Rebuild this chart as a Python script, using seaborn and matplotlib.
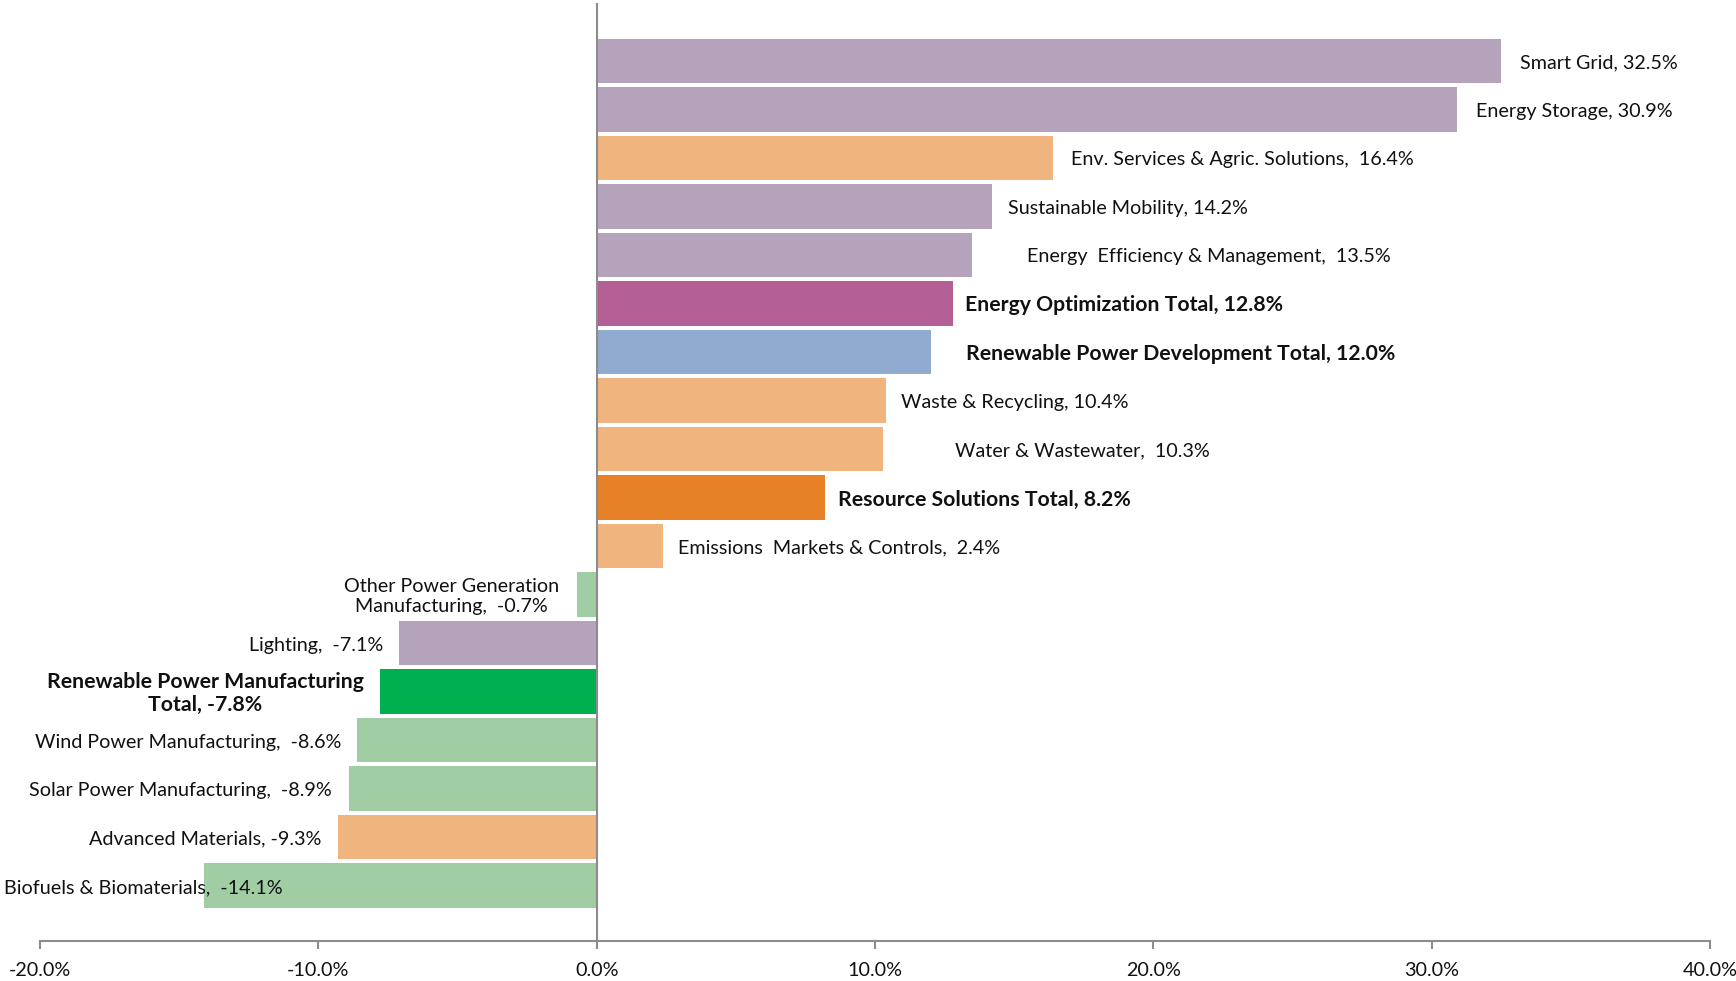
import matplotlib
matplotlib.use("Agg")
import matplotlib.pyplot as plt
import seaborn as sns
import pandas as pd

# ---------------- data ----------------
categories = [
    "Smart Grid", "Energy Storage", "Env. Services & Agric. Solutions",
    "Sustainable Mobility", "Energy  Efficiency & Management",
    "Energy Optimization Total", "Renewable Power Development Total",
    "Waste & Recycling", "Water & Wastewater", "Resource Solutions Total",
    "Emissions  Markets & Controls", "Other Power Generation\nManufacturing",
    "Lighting", "Renewable Power Manufacturing\nTotal",
    "Wind Power Manufacturing", "Solar Power Manufacturing",
    "Advanced Materials", "Biofuels & Biomaterials",
]
values = [32.5, 30.9, 16.4, 14.2, 13.5, 12.8, 12.0, 10.4, 10.3, 8.2,
          2.4, -0.7, -7.1, -7.8, -8.6, -8.9, -9.3, -14.1]
groups = [
    "Energy Optimization", "Energy Optimization", "Resource Solutions",
    "Energy Optimization", "Energy Optimization", "Energy Optimization Total",
    "Renewable Power Development Total", "Resource Solutions",
    "Resource Solutions", "Resource Solutions Total", "Resource Solutions",
    "Renewable Power Manufacturing", "Energy Optimization",
    "Renewable Power Manufacturing Total", "Renewable Power Manufacturing",
    "Renewable Power Manufacturing", "Resource Solutions",
    "Renewable Power Manufacturing",
]
label_seps = [", ", ", ", ",  ", ", ", ",  ", ", ", ", ", ", ", ",  ", ", ",
              ",  ", ",  ", ",  ", ", ", ",  ", ",  ", ", ", ",  "]
x_ticks = [-20, -10, 0, 10, 20, 30, 40]

group_colors = {
    "Energy Optimization": "#B5A3BC",
    "Energy Optimization Total": "#B46096",
    "Renewable Power Development Total": "#91AACF",
    "Resource Solutions": "#F0B47E",
    "Resource Solutions Total": "#E68127",
    "Renewable Power Manufacturing": "#A1CDA4",
    "Renewable Power Manufacturing Total": "#00B050",
}

# label offsets (pixels) from bar end
label_dx = [19, 19, 18, 16, 55, 12.5, 35, 15, 72, 13, 15,
            18, 16, 16, 16, 17, 16, -78]

# ---------------- style ----------------
sns.set_theme(style="white")
plt.rcParams["font.family"] = ["Lato", "DejaVu Sans"]
TEXT = "#111111"
AXC = "#8C8C8C"
FS = 14.2
FS_BOLD = 15.3

df = pd.DataFrame({"category": categories, "value": values, "group": groups})
palette = [group_colors[g] for g in groups]

fig = plt.figure(figsize=(17.36, 9.81), dpi=100)
W, H = 1736, 981
ax = fig.add_axes([40 / W, (H - 941) / H, 1670 / W, 937 / H])

sns.barplot(data=df, y="category", x="value", hue="category", palette=palette,
            legend=False, orient="h", width=0.91, saturation=1,
            edgecolor="none", linewidth=0, ax=ax)

ax.set_xlim(-20, 40)
ytop, ybot = -1.175, 18.144
ax.set_ylim(ybot, ytop)
ax.set_xlabel("")
ax.set_ylabel("")

for s in ["top", "right"]:
    ax.spines[s].set_visible(False)
ax.spines["left"].set_position(("data", 0))
for s in ["left", "bottom"]:
    ax.spines[s].set_color(AXC)
    ax.spines[s].set_linewidth(1.5)

ax.set_xticks(x_ticks)
ax.set_xticklabels([f"{t:.1f}%" for t in x_ticks])
ax.tick_params(axis="x", direction="out", length=6, width=1.5, color=AXC,
               labelsize=FS, labelcolor=TEXT, pad=9)
ax.set_yticks([ytop])
ax.set_yticklabels([""])
ax.tick_params(axis="y", direction="out", length=6.5, width=1.5, color=AXC)
ax.tick_params(axis="x", bottom=True)

for i, (name, v, sep, dx) in enumerate(zip(categories, values, label_seps, label_dx)):
    bold = "Total" in name
    txt = f"{name}{sep}{v:.1f}%"
    if v >= 0:
        ha, off = "left", dx
    else:
        ha, off = "right", -dx
    ax.annotate(txt, xy=(v, i), xytext=(off, -2), textcoords="offset pixels",
                ha=ha, va="center", fontsize=FS_BOLD if bold else FS,
                color=TEXT, fontweight="bold" if bold else "normal",
                multialignment="center", annotation_clip=False)

fig.savefig("out.png", dpi=100)
